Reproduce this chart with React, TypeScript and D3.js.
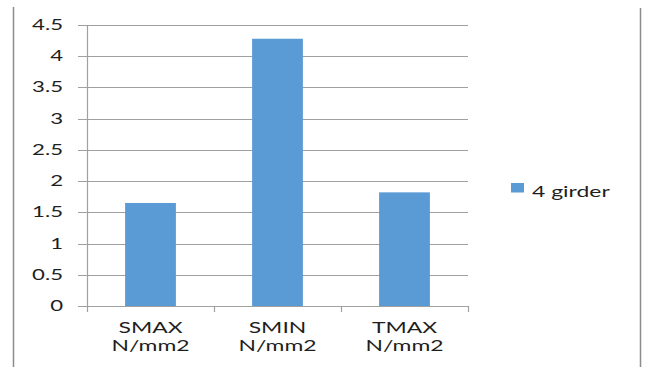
import React from "react";
import * as d3 from "d3";

// Stress results for the 4 girder model
const categories: string[][] = [
  ["SMAX", "N/mm2"],
  ["SMIN", "N/mm2"],
  ["TMAX", "N/mm2"],
];
const girder4: number[] = [1.65, 4.28, 1.82];
const yTicks: number[] = [0, 0.5, 1, 1.5, 2, 2.5, 3, 3.5, 4, 4.5];
const seriesName = "4 girder";

const W = 645;
const H = 367;
const plot = { left: 87, right: 468, top: 25, bottom: 306 };
const FONT = "Lato, 'DejaVu Sans', sans-serif";
const SX = 1.48; // horizontal text stretch
const BAR = "#5b9bd5";
const GRID = "#a0a0a0";

function StretchText(props: {
  x: number;
  y: number;
  anchor: "start" | "middle" | "end";
  size: number;
  children: React.ReactNode;
}) {
  return (
    <text
      transform={`translate(${props.x},${props.y}) scale(${SX},1)`}
      textAnchor={props.anchor}
      fontFamily={FONT}
      fontSize={props.size}
      fill="#1f1f1f"
    >
      {props.children}
    </text>
  );
}

export default function App() {
  const keys = categories.map((c) => c.join(" "));
  const x = d3
    .scaleBand<string>()
    .domain(keys)
    .range([plot.left, plot.right])
    .paddingInner(0.6)
    .paddingOuter(0.3);
  const band = d3.scaleBand<string>().domain(keys).range([plot.left, plot.right]);
  const y = d3.scaleLinear().domain([0, 4.5]).range([plot.bottom, plot.top]);

  const boundaries = [plot.left, ...keys.map((k) => (band(k) as number) + band.bandwidth())];

  return (
    <svg
      width={W}
      height={H}
      style={{ position: "absolute", left: 0, top: 0, background: "#fff" }}
    >
      {/* frame edges */}
      <line x1={13.5} x2={13.5} y1={7} y2={H} stroke="#8c8c8c" strokeWidth={1.5} />
      <line x1={640.5} x2={640.5} y1={8} y2={H} stroke="#8c8c8c" strokeWidth={1.5} />

      {/* gridlines with left tick marks */}
      {yTicks.map((t) => (
        <line
          key={"g" + t}
          x1={78}
          x2={plot.right}
          y1={Math.round(y(t)) + 0.5}
          y2={Math.round(y(t)) + 0.5}
          stroke={GRID}
          strokeWidth={1.2}
        />
      ))}
      {/* value axis */}
      <line
        x1={plot.left + 0.5}
        x2={plot.left + 0.5}
        y1={plot.top}
        y2={plot.bottom}
        stroke={GRID}
        strokeWidth={1.2}
      />
      {/* category ticks */}
      {boundaries.map((b, i) => (
        <line
          key={"t" + i}
          x1={Math.round(b) + 0.5}
          x2={Math.round(b) + 0.5}
          y1={plot.bottom}
          y2={plot.bottom + 6}
          stroke={GRID}
          strokeWidth={1.2}
        />
      ))}

      {/* bars */}
      {keys.map((k, i) => (
        <rect
          key={"b" + k}
          x={x(k) as number}
          width={x.bandwidth()}
          y={y(girder4[i])}
          height={y(0) - y(girder4[i])}
          fill={BAR}
        />
      ))}

      {/* value axis labels */}
      {yTicks.map((t) => (
        <StretchText key={"l" + t} x={63} y={y(t) + 5} anchor="end" size={15}>
          {String(t)}
        </StretchText>
      ))}

      {/* category labels */}
      {categories.map((c, i) => {
        const cx = (band(keys[i]) as number) + band.bandwidth() / 2;
        return (
          <g key={"c" + i}>
            <StretchText x={cx} y={333} anchor="middle" size={15.5}>
              {c[0]}
            </StretchText>
            <StretchText x={cx} y={351} anchor="middle" size={15.5}>
              {c[1]}
            </StretchText>
          </g>
        );
      })}

      {/* legend */}
      <rect x={511} y={183} width={13} height={9.5} fill={BAR} />
      <StretchText x={532} y={197} anchor="start" size={15.5}>
        {seriesName}
      </StretchText>
    </svg>
  );
}
